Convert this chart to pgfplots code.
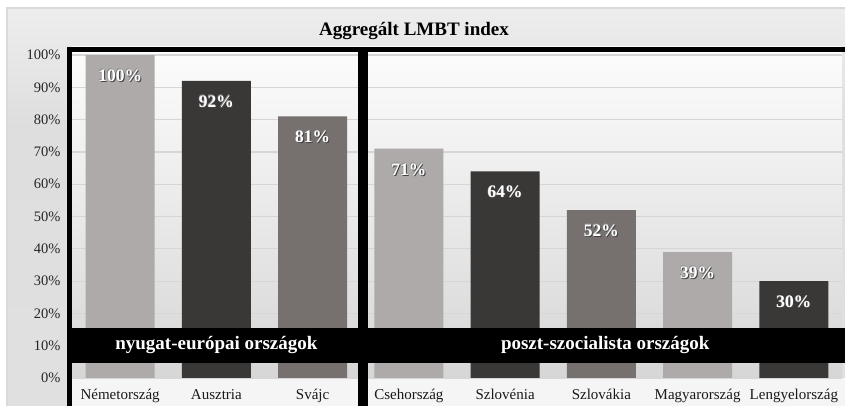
\documentclass[border=0pt]{standalone}
\usepackage{pgfplots}
\pgfplotsset{compat=1.18}
\usepackage{fontspec}
\setmainfont{Liberation Serif}
\definecolor{cLight}{HTML}{AEAAA9}
\definecolor{cDark}{HTML}{3A3837}
\definecolor{cMid}{HTML}{76716F}
\pgfdeclareverticalshading{bgshade}{100bp}{color(0bp)=(black!4); color(25bp)=(black!12); color(60bp)=(black!13); color(85bp)=(black!3); color(100bp)=(white)}
\newcommand\halo[1]{\makebox[0pt][l]{\hspace{1pt}\raisebox{-1pt}{\textcolor{black!75}{#1}}}\makebox[0pt][l]{\hspace{-0.6pt}\raisebox{0.6pt}{\textcolor{black!45}{#1}}}#1}
\begin{document}
\begin{tikzpicture}[x=1pt,y=1pt]
\useasboundingbox (0,0) rectangle (845,406);
\fill[white] (0,0) rectangle (845,406);
\shade[shading=bgshade] (7,0) rectangle (845,398);
\draw[black!15, line width=1.2pt] (7,-2) -- (7,398) -- (847,398);
\fill[black!4] (72,0) rectangle (845,28);
\node[font=\bfseries\fontsize{19}{19}\selectfont] at (414,375) {Aggregált LMBT index};
\begin{axis}[
  at={(72pt,28pt)}, anchor=south west,
  scale only axis, width=770pt, height=331pt,
  xmin=-0.5, xmax=7.5, ymin=0, ymax=102.5,
  clip=false,
  /pgf/number format/assume math mode=true,
  axis background/.style={top color=black!1, bottom color=black!16},
  axis line style={draw=none}, tick style={draw=none},
  ytick={0,10,...,100},
  yticklabels={0\%,10\%,20\%,30\%,40\%,50\%,60\%,70\%,80\%,90\%,100\%},
  yticklabel style={font=\fontsize{14.5}{14.5}\selectfont, text=black!85, xshift=-8pt},
  ymajorgrids, major grid style={draw=black!16, line width=1.2pt},
  xtick={0,...,7},
  xticklabels={Németország,Ausztria,Svájc,Csehország,Szlovénia,Szlovákia,Magyarország,Lengyelország},
  xticklabel style={font=\fontsize{15}{15}\selectfont, text=black!90, text height=11pt, text depth=3.5pt, yshift=-3pt},
  ybar, bar width=69pt, bar shift=0pt,
  nodes near coords={\halo{\pgfmathprintnumber{\pgfplotspointmeta}\%}},
  every node near coord/.append style={anchor=center, yshift=-21pt, text=white, font=\bfseries\fontsize{17.5}{17.5}\selectfont},
]
\addplot[fill=cLight, draw=none] coordinates {(0,100) (3,71) (6,39)};
\addplot[fill=cDark, draw=none] coordinates {(1,92) (4,64) (7,30)};
\addplot[fill=cMid, draw=none] coordinates {(2,81) (5,52)};
\draw[line width=5.5pt, black] (axis cs:-0.526,-8.7) -- (axis cs:-0.526,101.7) -- (axis cs:2.497,101.7) -- (axis cs:2.497,-8.7);
\draw[line width=5.5pt, black] (axis cs:2.549,-8.7) -- (axis cs:2.549,101.7) -- (axis cs:7.6,101.7);
\fill[black] (axis cs:-0.5,4.6) rectangle (axis cs:2.47,15.5);
\fill[black] (axis cs:2.58,4.6) rectangle (axis cs:7.6,15.5);
\node[text=white, font=\bfseries\fontsize{19}{19}\selectfont] at (axis cs:1,10.1) {nyugat-európai országok};
\node[text=white, font=\bfseries\fontsize{19}{19}\selectfont] at (axis cs:5.04,10.1) {poszt-szocialista országok};
\end{axis}
\end{tikzpicture}
\end{document}
